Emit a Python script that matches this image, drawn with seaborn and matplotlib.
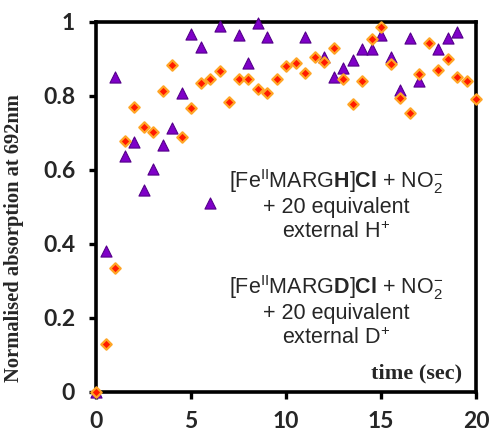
import matplotlib
matplotlib.use("Agg")
import matplotlib.pyplot as plt
import seaborn as sns
import pandas as pd

# --- data ---
time_H = [0, 0.5, 1, 1.5, 2, 2.5, 3, 3.5, 4, 4.5, 5, 5.5, 6, 6.5, 7.5, 8, 8.5, 9,
          11, 12, 12.5, 13, 13.5, 14, 14.5, 15, 15.5, 16, 16.5, 17, 18, 18.5, 19]
abs_H = [0.0, 0.38, 0.852, 0.638, 0.677, 0.546, 0.602, 0.668, 0.713, 0.807, 0.967, 0.933,
         0.512, 0.989, 0.964, 0.888, 0.996, 0.960,
         0.959, 0.906, 0.852, 0.877, 0.897, 0.927, 0.927, 0.965, 0.906, 0.816, 0.958,
         0.841, 0.926, 0.958, 0.974]

time_D = [0, 0.5, 1, 1.5, 2, 2.5, 3, 3.5, 4, 4.5, 5, 5.5, 6, 6.5, 7, 7.5, 8, 8.5, 9, 9.5,
          10, 10.5, 11, 11.5, 12, 12.5, 13, 13.5, 14, 14.5, 15, 15.5, 16, 16.5, 17, 17.5,
          18, 18.5, 19, 19.5, 20]
abs_D = [0.0, 0.130, 0.336, 0.679, 0.771, 0.717, 0.704, 0.814, 0.884, 0.690, 0.767, 0.836,
         0.846, 0.868, 0.785, 0.847, 0.846, 0.818, 0.807, 0.847,
         0.881, 0.888, 0.861, 0.906, 0.893, 0.931, 0.845, 0.778, 0.841, 0.953, 0.987,
         0.886, 0.795, 0.755, 0.859, 0.942, 0.869, 0.900, 0.852, 0.841, 0.791]

x_ticks = [0, 5, 10, 15, 20]
y_ticks = [0, 0.2, 0.4, 0.6, 0.8, 1]
y_tick_labels = ["0", "0.2", "0.4", "0.6", "0.8", "1"]

dfH = pd.DataFrame({"time": time_H, "abs": abs_H})
dfD = pd.DataFrame({"time": time_D, "abs": abs_D})

sns.set_style("ticks")
plt.rcParams["font.family"] = ["Liberation Sans", "DejaVu Sans"]
plt.rcParams["mathtext.fontset"] = "custom"
plt.rcParams["mathtext.rm"] = "Liberation Sans"
plt.rcParams["mathtext.it"] = "Liberation Sans:italic"
plt.rcParams["mathtext.bf"] = "Liberation Sans:bold"

fig = plt.figure(figsize=(4.91, 4.32), dpi=100)
ax = fig.add_axes([96 / 491, 1 - 392 / 432, (476 - 96) / 491, (392 - 22) / 432])

sns.scatterplot(data=dfH, x="time", y="abs", ax=ax, marker="^", s=64,
                color="#7F00C8", edgecolor="#55008A", linewidth=0.8,
                clip_on=False, zorder=5, legend=False)
sns.scatterplot(data=dfD, x="time", y="abs", ax=ax, marker="D", s=28,
                color="#FF1A00", edgecolor="#FFA526", linewidth=1.6,
                clip_on=False, zorder=6, legend=False)

ax.set_xlim(0, 20)
ax.set_ylim(0, 1)
ax.set_xticks(x_ticks)
ax.set_xticklabels([str(t) for t in x_ticks])
ax.set_yticks(y_ticks)
ax.set_yticklabels(y_tick_labels)

for s in ax.spines.values():
    s.set_visible(True)
    s.set_linewidth(2.6)
    s.set_color("black")
ax.tick_params(axis="both", direction="out", length=5, width=2.4, color="black",
               top=False, right=False)
ax.tick_params(axis="x", pad=9)
ax.tick_params(axis="y", pad=10)
for lab in ax.get_xticklabels() + ax.get_yticklabels():
    lab.set_fontfamily("Lato")
    lab.set_fontweight("bold")
    lab.set_fontsize(16.5)

ax.set_xlabel("")
ax.set_ylabel("Normalised absorption at 692nm", family="Liberation Serif",
              fontweight="bold", fontsize=14.8)
ax.yaxis.set_label_coords(-0.19, 0.415)

ax.text(0.963, 0.051, "time (sec)", transform=ax.transAxes, ha="right", va="center",
        family="Liberation Serif", fontweight="bold", fontsize=16)

fs = 15.5
cx = 0.632
ax.text(cx, 0.570, r"[Fe$^{\rm II}$MARG$\mathbf{H}$]$\mathbf{Cl}$ + NO$_2^{-}$",
        transform=ax.transAxes, ha="center", va="center", fontsize=fs)
ax.text(cx, 0.500, "+ 20 equivalent", transform=ax.transAxes, ha="center",
        va="center", fontsize=fs)
ax.text(cx, 0.432, r"external H$^{+}$", transform=ax.transAxes, ha="center",
        va="center", fontsize=fs)

ax.text(cx, 0.283, r"[Fe$^{\rm II}$MARG$\mathbf{D}$]$\mathbf{Cl}$ + NO$_2^{-}$",
        transform=ax.transAxes, ha="center", va="center", fontsize=fs)
ax.text(cx, 0.213, "+ 20 equivalent", transform=ax.transAxes, ha="center",
        va="center", fontsize=fs)
ax.text(cx, 0.146, r"external D$^{+}$", transform=ax.transAxes, ha="center",
        va="center", fontsize=fs)

fig.savefig("out.png", dpi=100)
